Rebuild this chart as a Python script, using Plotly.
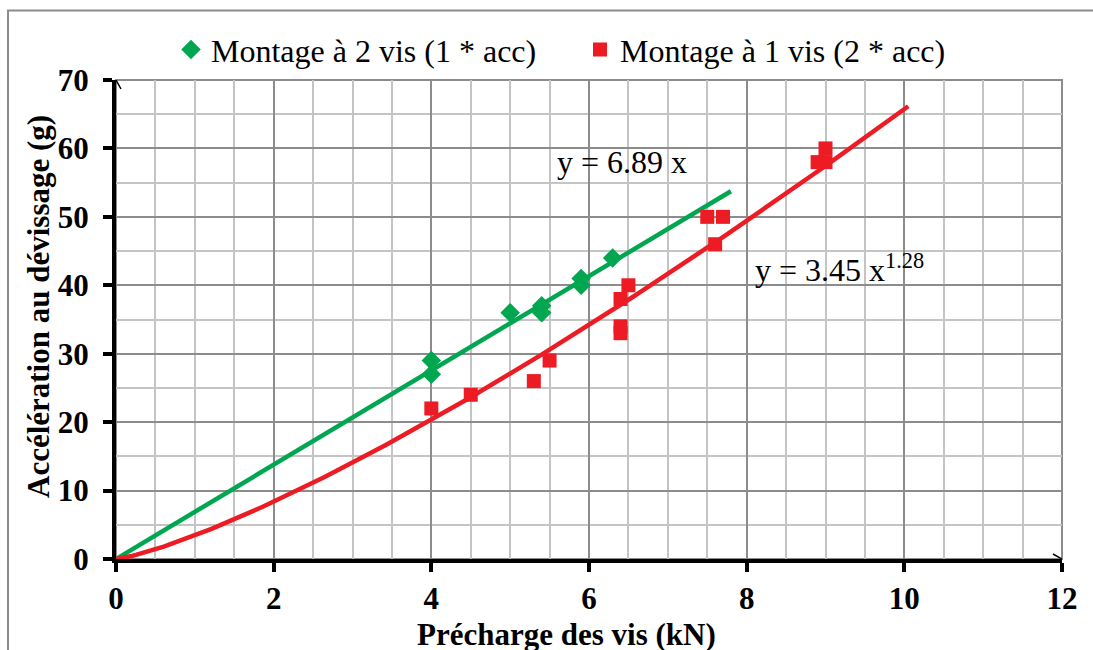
import numpy as np
import plotly.graph_objects as go

# Data: Montage à 2 vis (1 * acc)
x_2vis = [4.0, 4.0, 5.0, 5.4, 5.4, 5.9, 5.9, 6.3]
y_2vis = [29, 27, 36, 37, 36, 41, 40, 44]

# Data: Montage à 1 vis (2 * acc)
x_1vis = [4.0, 4.5, 5.3, 5.5, 6.4, 6.4, 6.4, 6.5, 7.5, 7.7, 7.6, 8.9, 9.0, 9.0]
y_1vis = [22, 24, 26, 29, 38, 34, 33, 40, 50, 50, 46, 58, 58, 60]

# Trendline coefficients (as shown on the chart)
lin_slope = 6.89
lin_xmax = 7.8
pow_coef = 3.45
pow_exp = 1.28
pow_xmax = 10.05

x_ticks = [0, 2, 4, 6, 8, 10, 12]
y_ticks = [0, 10, 20, 30, 40, 50, 60, 70]

GREEN = "#00A650"
RED = "#ED1C24"
SERIF = "Liberation Serif, Times New Roman, serif"

xl = np.linspace(0, lin_xmax, 60)
xp = np.linspace(0, pow_xmax, 200)

fig = go.Figure()
fig.add_trace(go.Scatter(x=xl, y=lin_slope * xl, mode="lines",
                         line=dict(color=GREEN, width=4.5), showlegend=False, hoverinfo="skip"))
fig.add_trace(go.Scatter(x=xp, y=pow_coef * xp ** pow_exp, mode="lines",
                         line=dict(color=RED, width=4.5), showlegend=False, hoverinfo="skip"))
fig.add_trace(go.Scatter(x=x_2vis, y=y_2vis, mode="markers", name="Montage à 2 vis (1 * acc)",
                         marker=dict(symbol="diamond", size=15, color=GREEN)))
fig.add_trace(go.Scatter(x=x_1vis, y=y_1vis, mode="markers", name="Montage à 1 vis (2 * acc)",
                         marker=dict(symbol="square", size=14, color=RED)))

axis_common = dict(
    showline=True, linecolor="black", linewidth=4,
    ticks="outside", ticklen=9, tickwidth=4, tickcolor="black",
    tickfont=dict(family=SERIF, size=31, color="black", weight="bold"),
    showgrid=True, gridcolor="#8c8c8c", gridwidth=2,
    zeroline=False, fixedrange=True, automargin=False,
)

fig.update_layout(
    width=1093, height=650,
    margin=dict(l=116, r=31, t=80, b=91, autoexpand=False),
    paper_bgcolor="white", plot_bgcolor="white",
    font=dict(family=SERIF, color="black"),
    xaxis=dict(range=[0, 12], tickvals=x_ticks, ticklabelstandoff=0,
               minor=dict(dtick=0.5, showgrid=True, gridcolor="#c4c4c4", gridwidth=2, ticks=""),
               **axis_common),
    yaxis=dict(range=[0, 70], tickvals=y_ticks, ticklabelstandoff=8,
               minor=dict(dtick=5, showgrid=True, gridcolor="#c4c4c4", gridwidth=2, ticks=""),
               **axis_common),
    legend=dict(orientation="h", x=(171 - 116) / 946, xanchor="left", y=1.063, yanchor="middle",
                font=dict(family=SERIF, size=32, color="black"),
                bgcolor="rgba(0,0,0,0)", itemwidth=30, entrywidth=364, entrywidthmode="pixels"),
    showlegend=True,
)

# frame of plot area (top/right gray)
fig.add_shape(type="rect", xref="paper", yref="paper", x0=0, x1=1, y0=0, y1=1,
              line=dict(color="#8c8c8c", width=2), layer="below")
# outer chart border
fig.add_shape(type="rect", xref="paper", yref="paper",
              x0=(8 - 116) / 946, x1=(1100 - 116) / 946,
              y0=(559 - 660) / 479, y1=(559 - 10.5) / 479,
              line=dict(color="#8c8c8c", width=2))
# arrowheads on axes
fig.add_shape(type="path", xref="x", yref="y", xsizemode="pixel", ysizemode="pixel",
              xanchor=12, yanchor=0, path="M-9,-5 L0,0 L-9,5",
              line=dict(color="black", width=1.5))
fig.add_shape(type="path", xref="x", yref="y", xsizemode="pixel", ysizemode="pixel",
              xanchor=0, yanchor=70, path="M-5,-9 L0,0 L5,-9",
              line=dict(color="black", width=1.5))

# equations
fig.add_annotation(x=5.57, y=58.0, xref="x", yref="y", text="y = 6.89 x", showarrow=False,
                   xanchor="left", yanchor="middle", font=dict(family=SERIF, size=32, color="black"))
fig.add_annotation(x=8.08, y=42.5, xref="x", yref="y", text="y = 3.45 x<sup>1.28</sup>", showarrow=False,
                   xanchor="left", yanchor="middle", font=dict(family=SERIF, size=32, color="black"))

# axis titles
fig.add_annotation(x=(566 - 116) / 946, y=(559 - 634) / 479, xref="paper", yref="paper",
                   text="<b>Précharge des vis (kN)</b>", showarrow=False,
                   xanchor="center", yanchor="middle", font=dict(family=SERIF, size=31, color="black"))
fig.add_annotation(x=(38 - 116) / 946, y=(559 - 307) / 479, xref="paper", yref="paper",
                   text="<b>Accélération au dévissage (g)</b>", showarrow=False, textangle=-90,
                   xanchor="center", yanchor="middle", font=dict(family=SERIF, size=31, color="black"))

fig.write_html("out.html", config={"displayModeBar": False},
               post_script="document.body.style.margin='0';document.body.style.overflow='hidden';")
